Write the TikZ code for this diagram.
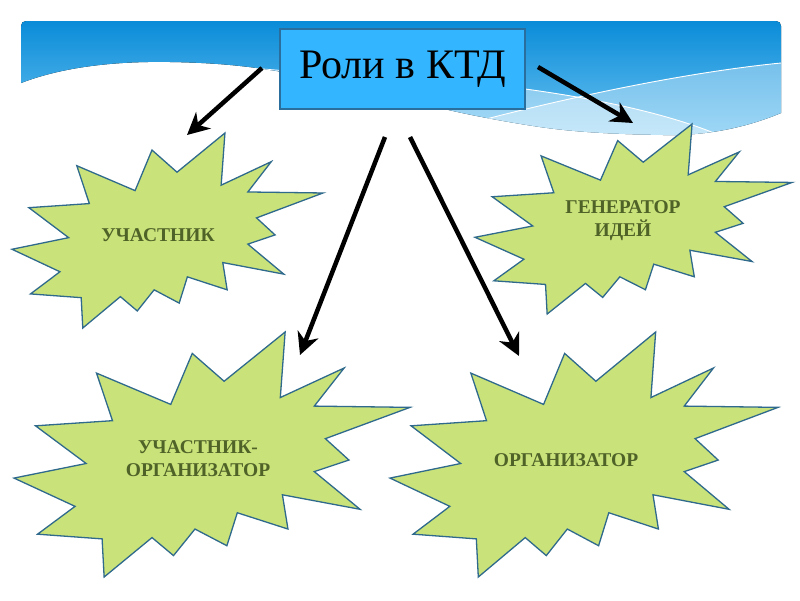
\documentclass[tikz,border=0pt]{standalone}
\usepackage{fontspec}
\setmainfont{Liberation Serif}
\newfontfamily\titlefont{LiberationSerif-Regular.ttf}
\usetikzlibrary{arrows.meta}
\definecolor{burstfill}{HTML}{CAE27A}
\definecolor{burstline}{HTML}{2F6A8C}
\definecolor{bursttext}{HTML}{4F6228}
\definecolor{titlefill}{HTML}{33B5FF}
\definecolor{titleline}{HTML}{2A6E9E}
\definecolor{bandtop}{HTML}{0A8CD8}
\definecolor{bandbot}{HTML}{6CC3F2}
\tikzset{
  burst/.style={fill=burstfill, draw=burstline, line width=1.3pt, line join=miter},
  bursttxt/.style={font=\rmfamily\bfseries\fontsize{19.5}{23}\selectfont, text=bursttext, align=center, inner sep=0pt},
  titlebox/.style={fill=titlefill, draw=titleline, line width=1.2pt, minimum width=245pt, minimum height=80pt, inner sep=0pt, font=\titlefont\fontsize{42}{42}\selectfont},
  rolearrow/.style={line width=4.5pt, -{Stealth[length=22pt,width=22pt,inset=7pt]}},
}
\newcommand{\burstshape}[4]{%
  \path[burst, shift={(#1,#2)}, xscale=#3, yscale=#4]
    (0.5306,0.2010) -- (0.6847,0) -- (0.6725,0.2675) -- (0.8337,0.1469) --
    (0.7583,0.3024) -- (1,0.3076) -- (0.7863,0.4353) -- (0.8458,0.5227) --
    (0.7583,0.5699) -- (0.8739,0.7237) -- (0.6778,0.6644) -- (0.6918,0.8042) --
    (0.5639,0.7377) -- (0.5376,0.8723) -- (0.4570,0.8042) -- (0.4028,0.9126) --
    (0.3485,0.8391) -- (0.2276,1) -- (0.2225,0.8444) -- (0.0595,0.8252) --
    (0.1542,0.7116) -- (0,0.5962) -- (0.1822,0.5367) -- (0.0543,0.3829) --
    (0.2487,0.3619) -- (0.2084,0.1678) -- (0.3958,0.2955) -- (0.4501,0.0874) -- cycle;}
\newcommand{\bandpath}{(21,83) -- (21,26) .. controls (21,23) and (23,21) .. (26,21) -- (776,21) .. controls (779,21) and (781,23) .. (781,26) -- (781,113) .. controls (745,128) and (705,136) .. (663,135) .. controls (610,134) and (575,132) .. (540,127) .. controls (500,121) and (465,114) .. (440,108) .. controls (390,94) and (340,80) .. (300,75) .. controls (260,68) and (230,63) .. (170,62) .. controls (110,61) and (60,68) .. (21,83) -- cycle}
\begin{document}
\begin{tikzpicture}[x=1pt,y=-1pt]
\useasboundingbox (0,0) rectangle (800,600);
\fill[white] (0,0) rectangle (800,600);
% header band
\fill[top color=bandtop, bottom color=bandbot] \bandpath;
\begin{scope}
  \clip \bandpath;
  \fill[white, opacity=0.4] (300,72) .. controls (450,75) and (620,95) .. (714,133) -- (800,160) -- (800,200) -- (300,200) -- cycle;
  \fill[white, opacity=0.35] (420,140) -- (490,118) .. controls (580,95) and (690,72) .. (781,63) -- (800,60) -- (800,200) -- (420,200) -- cycle;
  \draw[white, line width=0.9pt] (250,68) -- (300,72) .. controls (450,75) and (620,95) .. (714,133) -- (760,150);
  \draw[white, line width=0.9pt] (420,140) -- (490,118) .. controls (580,95) and (690,72) .. (781,63);
\end{scope}
% title
\node[titlebox] (title) at (402.5,69) {Роли в КТД};
% starbursts
\burstshape{12}{133}{311}{195}
\burstshape{475}{124}{317}{190}
\burstshape{14}{332}{396}{245}
\burstshape{390}{332}{388}{245}
\node[bursttxt] (t1) at (158,235) {УЧАСТНИК};
\node[bursttxt] (t2) at (623,221) {ГЕНЕРАТОР\\ИДЕЙ};
\node[bursttxt] (t3) at (198,459) {УЧАСТНИК-\\ОРГАНИЗАТОР};
\node[bursttxt] (t4) at (566,460) {ОРГАНИЗАТОР};
% arrows
\coordinate (a1s) at (262,68);
\coordinate (a1e) at (187,135);
\coordinate (a2s) at (538,67);
\coordinate (a2e) at (633,123);
\coordinate (a3s) at (385,137);
\coordinate (a3e) at (300,355);
\coordinate (a4s) at (410,137);
\coordinate (a4e) at (519,356);
\draw[rolearrow] (a1s) -- (a1e);
\draw[rolearrow] (a2s) -- (a2e);
\draw[rolearrow] (a3s) -- (a3e);
\draw[rolearrow] (a4s) -- (a4e);
\end{tikzpicture}
\end{document}
